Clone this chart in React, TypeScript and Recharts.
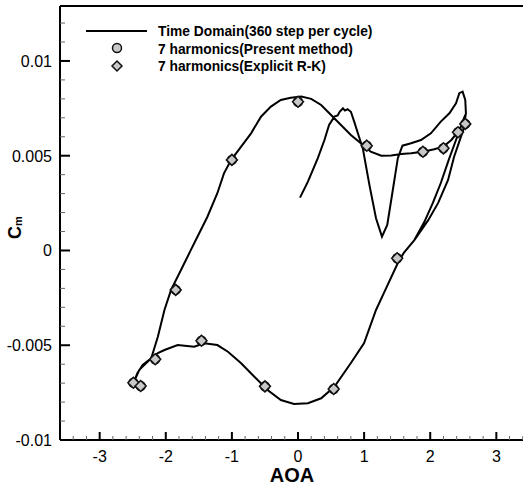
import { ComposedChart, Line, Scatter, XAxis, YAxis, ReferenceLine } from "recharts"

// time-domain path (in drawing order)
const timeAoa = [
  0.03, 0.15, 0.3, 0.4, 0.47, 0.55, 0.6, 0.63, 0.68, 0.71, 0.75, 0.8, 0.85, 0.93, 0.98, 1.08, 1.18, 1.27,
  1.35, 1.43, 1.51, 1.58, 1.71, 1.86, 2.01, 2.16, 2.29, 2.39, 2.44, 2.49, 2.53, 2.54,
  2.5, 2.36, 2.27, 2.12, 1.97, 1.76, 1.6, 1.51, 1.3, 1.18, 1.0, 0.8, 0.55, 0.35, 0.15, -0.06, -0.26,
  -0.46, -0.66, -0.86, -1.06, -1.22, -1.42, -1.57, -1.82, -2.02, -2.12, -2.22, -2.35, -2.43, -2.48,
  -2.4, -2.22, -2.12, -2.02, -1.92, -1.77, -1.62, -1.57, -1.37, -1.22, -1.12, -1.01, -0.86, -0.71,
  -0.56, -0.41, -0.26, -0.11, 0.05, 0.2, 0.35, 0.5, 0.65, 0.8, 0.95, 1.1, 1.26, 1.41, 1.56, 1.71,
  1.89, 2.06, 2.2, 2.32, 2.42, 2.49, 2.53,
  2.47, 2.39, 2.28, 2.16, 2.04, 1.91, 1.76, 1.6, 1.51, 1.3, 1.18,
]
const timeCm = [
  0.00279, 0.00363, 0.00487, 0.00583, 0.00662, 0.00706, 0.00712, 0.00732, 0.0075, 0.00738, 0.00745,
  0.00732, 0.0068, 0.00592, 0.00539, 0.00346, 0.0017, 0.00073, 0.00135, 0.0031, 0.00487, 0.00553,
  0.00566, 0.00583, 0.00618, 0.0068, 0.00724, 0.00777, 0.0083, 0.00838, 0.00794, 0.00724,
  0.00636, 0.00493, 0.00372, 0.00251, 0.0016, 0.00055, -0.00013, -0.00066, -0.00224, -0.00314,
  -0.00488, -0.00594, -0.00719, -0.0078, -0.00806, -0.0081, -0.00789, -0.00736, -0.00666, -0.00595,
  -0.00534, -0.00499, -0.0049, -0.00508, -0.00499, -0.00525, -0.00542, -0.00569, -0.00604, -0.00648,
  -0.00692, -0.0063, -0.00569, -0.00455, -0.00314, -0.00208, -0.00103, 0.00003, 0.00038, 0.00178,
  0.00302, 0.00407, 0.00478, 0.00548, 0.00618, 0.00706, 0.00759, 0.00794, 0.00806, 0.00812, 0.008,
  0.00768, 0.00715, 0.00662, 0.00609, 0.00566, 0.00521, 0.005, 0.00501, 0.00509, 0.00513, 0.00521,
  0.00534, 0.00548, 0.00583, 0.00627, 0.00671, 0.00715,
  0.00662, 0.00583, 0.00478, 0.00356, 0.00251, 0.0015, 0.00055, -0.00013, -0.00066, -0.00224, -0.00314,
]

// harmonic balance points
const presentAoa = [-2.49, -2.38, -2.16, -1.85, -1.46, -1.0, -0.5, 0.0, 0.54, 1.04, 1.5, 1.89, 2.2, 2.42, 2.53]
const presentCm = [
  -0.00698, -0.00715, -0.00574, -0.00208, -0.00476, 0.00478, -0.00717, 0.00785, -0.00731, 0.00553,
  -0.00041, 0.00521, 0.00539, 0.00624, 0.00668,
]
const explicitAoa = [-2.49, -2.38, -2.16, -1.85, -1.46, -1.0, -0.5, 0.0, 0.54, 1.04, 1.5, 1.89, 2.2, 2.42, 2.53]
const explicitCm = [
  -0.00698, -0.00715, -0.00574, -0.00208, -0.00476, 0.00478, -0.00717, 0.00785, -0.00731, 0.00553,
  -0.00041, 0.00521, 0.00539, 0.00624, 0.00668,
]

const xMajor = [-3, -2, -1, 0, 1, 2, 3]
const yMajor = [-0.01, -0.005, 0, 0.005, 0.01]
const xMinor: number[] = []
for (let i = -17; i <= 17; i++) xMinor.push(i / 5)
const yMinor: number[] = []
for (let i = -10; i <= 12; i++) yMinor.push(i / 1000)

const seriesNames = [
  "Time Domain(360 step per cycle)",
  "7 harmonics(Present method)",
  "7 harmonics(Explicit R-K)",
]

const timeData = timeAoa.map((a, i) => ({ aoa: a, cm: timeCm[i] }))
const presentData = presentAoa.map((a, i) => ({ aoa: a, cm: presentCm[i] }))
const explicitData = explicitAoa.map((a, i) => ({ aoa: a, cm: explicitCm[i] }))

const FONT = "'Liberation Sans', Arial, sans-serif"
const MARK_FILL = "#c8c8c8"

const isMajor = (list: number[], v: number) => list.some((m) => Math.abs(m - v) < 1e-9)

const XTick = (props: any) => {
  const { x, y, payload } = props
  const major = isMajor(xMajor, payload.value)
  return (
    <g>
      <line x1={x} x2={x} y1={y} y2={y - (major ? 8 : 4)} stroke={major ? "#000" : "#666"} strokeWidth={major ? 2 : 1} />
      {major && (
        <text x={x} y={y + 22} textAnchor="middle" fontSize={16} fill="#000" fontFamily={FONT}>
          {payload.value}
        </text>
      )}
    </g>
  )
}

const YTick = (props: any) => {
  const { x, y, payload } = props
  const major = isMajor(yMajor, payload.value)
  return (
    <g>
      <line x1={x} x2={x + (major ? 10 : 5)} y1={y} y2={y} stroke={major ? "#000" : "#666"} strokeWidth={major ? 2 : 1} />
      {major && (
        <text x={x - 8} y={y + 6} textAnchor="end" fontSize={16} fill="#000" fontFamily={FONT}>
          {String(Math.round(payload.value * 1000) / 1000)}
        </text>
      )}
    </g>
  )
}

const AoaLabel = (props: any) => {
  const vb = props.viewBox
  return (
    <text x={vb.x + vb.width / 2 - 6} y={vb.y + 42} textAnchor="middle" fontSize={20} fontWeight="bold" fontFamily={FONT} fill="#000">
      AOA
    </text>
  )
}

const Diamond = (props: any) => {
  const { cx, cy } = props
  const r = 5.5
  return (
    <path
      d={`M${cx},${cy - r} L${cx + r},${cy} L${cx},${cy + r} L${cx - r},${cy} Z`}
      fill={MARK_FILL}
      stroke="#111"
      strokeWidth={1.5}
    />
  )
}

const Dot = (props: any) => {
  const { cx, cy } = props
  return <circle cx={cx} cy={cy} r={4.5} fill={MARK_FILL} stroke="#111" strokeWidth={1.5} />
}

// legend and rotated y title drawn over the chart
const Overlay = () => (
  <svg width={523} height={487} style={{ position: "absolute", left: 0, top: 0, pointerEvents: "none" }}>
    <line x1={86} x2={147} y1={31} y2={31} stroke="#000" strokeWidth={2} />
    <circle cx={117} cy={48} r={4.5} fill={MARK_FILL} stroke="#111" strokeWidth={1.5} />
    <path d="M117,61 L122,66 L117,71 L112,66 Z" fill={MARK_FILL} stroke="#111" strokeWidth={1.5} />
    {seriesNames.map((n, i) => (
      <text key={n} x={158} y={36 + i * 17.5} fontSize={13.8} fontWeight="bold" fontFamily={FONT} fill="#000">
        {n}
      </text>
    ))}
    <text transform="rotate(-90 21 239)" x={21} y={239} fontFamily={FONT} fontWeight="bold" fill="#000">
      <tspan fontSize={18}>C</tspan>
      <tspan fontSize={11} dy={1}>m</tspan>
    </text>
  </svg>
)

export default function App() {
  return (
    <div
      style={{
        position: "fixed",
        left: 0,
        top: 0,
        width: 523,
        height: 487,
        overflow: "hidden",
        background: "#fff",
        fontFamily: FONT,
      }}
    >
      <ComposedChart width={545} height={487} margin={{ top: 6, right: 9, left: 0, bottom: 0 }}>
        <XAxis
          dataKey="aoa"
          type="number"
          domain={[-3.6, 3.6]}
          allowDataOverflow
          ticks={xMinor}
          interval={0}
          tickSize={0}
          tickMargin={0}
          tick={<XTick />}
          height={47}
          axisLine={{ stroke: "#000", strokeWidth: 2 }}
          label={{ content: <AoaLabel /> }}
        />
        <YAxis
          dataKey="cm"
          type="number"
          domain={[-0.01, 0.0129]}
          allowDataOverflow
          ticks={yMinor}
          interval={0}
          tickSize={0}
          tickMargin={0}
          tick={<YTick />}
          width={60}
          axisLine={{ stroke: "#000", strokeWidth: 2 }}
        />
        <ReferenceLine y={0.0129} stroke="#000" strokeWidth={2} />
        <Line
          data={timeData}
          dataKey="cm"
          type="linear"
          stroke="#000"
          strokeWidth={2}
          dot={false}
          activeDot={false}
          isAnimationActive={false}
          name={seriesNames[0]}
        />
        <Scatter data={presentData} dataKey="cm" shape={<Dot />} isAnimationActive={false} name={seriesNames[1]} />
        <Scatter data={explicitData} dataKey="cm" shape={<Diamond />} isAnimationActive={false} name={seriesNames[2]} />
      </ComposedChart>
      <Overlay />
    </div>
  )
}
